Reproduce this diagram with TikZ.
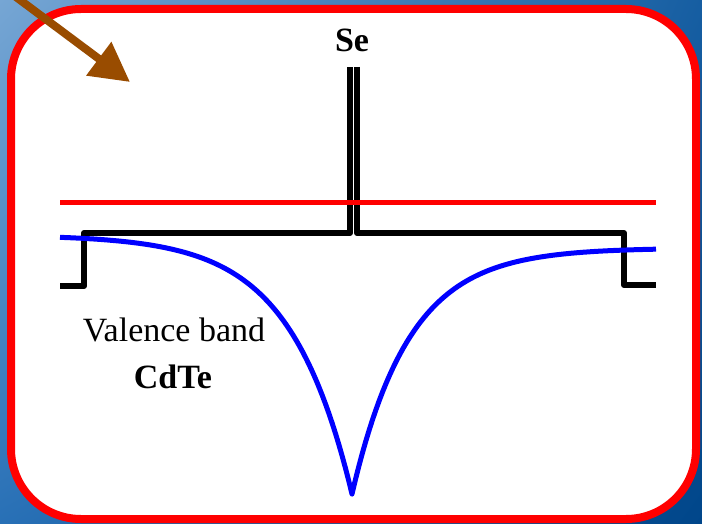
\documentclass[tikz,border=0pt]{standalone}
\usepackage{fontspec}
\setmainfont{Liberation Serif}
\usetikzlibrary{arrows.meta,shadings}
\definecolor{cBgA}{RGB}{118,166,212}
\definecolor{cBgB}{RGB}{22,94,162}
\definecolor{cBgC}{RGB}{40,112,182}
\definecolor{cBgD}{RGB}{0,70,138}
\definecolor{cFrame}{HTML}{FF0000}
\definecolor{cArrow}{HTML}{994C00}
\definecolor{cBand}{HTML}{0000FF}
\tikzset{
  frame/.style   = {draw=cFrame, fill=white, line width=8pt, rounded corners=70pt},
  profile/.style = {draw=black, line width=6pt, line join=round},
  fermi/.style   = {draw=cFrame, line width=5pt},
  vband/.style   = {draw=cBand, line width=5pt, line join=round},
  pointer/.style = {draw=cArrow, line width=8pt,
                    -{Triangle[length=39pt, width=40pt, fill=cArrow]}},
  lbl/.style     = {font=\fontsize{34}{40}\selectfont, inner sep=0pt, anchor=base},
}
\begin{document}
\begin{tikzpicture}[x=1pt, y=-1pt]
  \useasboundingbox (0,0) rectangle (702,524);
  % ---- background and frame ----
  \shade[upper left=cBgA, upper right=cBgB, lower left=cBgC, lower right=cBgD]
    (0,0) rectangle (702,524);
  \draw[frame] (11,9) rectangle (696,519);

  % ---- pointer from the top left ----
  \coordinate (tail) at (12,-6);
  \coordinate (tip) at (130,82);
  \draw[pointer] (tail) -- (tip);

  % ---- black band edge with the Se spike ----
  \draw[profile] (60,286) -- (84,286) -- (84,233) -- (350,233) -- (350,67);
  \draw[profile] (357,67) -- (357,233) -- (624,233) -- (624,285) -- (656,285);

  % ---- red level ----
  \draw[fermi] (60,203) -- (656,203);

  % ---- blue bent band ----
  \draw[vband] plot[domain=60:352, samples=90] (\x, {235+259*exp(-(352-\x)/62)})
    -- plot[domain=352:656, samples=90] (\x, {248+246*exp(-(\x-352)/57)});

  % ---- labels ----
  \node[lbl] (se) at (352,52) {\textbf{Se}};
  \node[lbl] (vb) at (174,341) {Valence band};
  \node[lbl] (cdte) at (173,388) {\textbf{CdTe}};
\end{tikzpicture}
\end{document}
